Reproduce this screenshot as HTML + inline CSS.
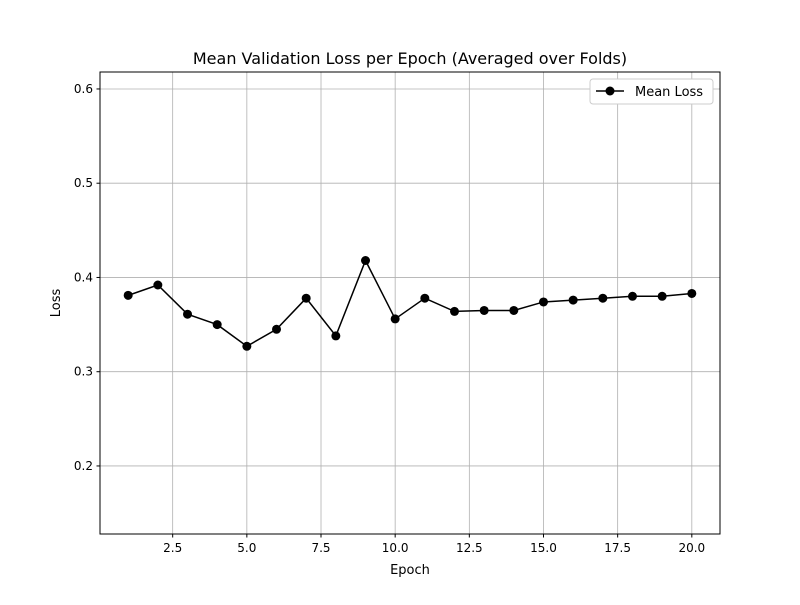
<!DOCTYPE html>
<html><head><meta charset="utf-8"><style>
body{margin:0;background:#fff;}
svg text{font-family:"DejaVu Sans","Liberation Sans",sans-serif;fill:#000;}
</style></head><body>
<svg id="chart" width="800" height="600" xmlns="http://www.w3.org/2000/svg">
<rect width="800" height="600" fill="#fff"/>
<text x="410" y="64" font-size="16" text-anchor="middle">Mean Validation Loss per Epoch (Averaged over Folds)</text>
<g id="grid"></g>
<g id="xticks"></g>
<g id="yticks"></g>
<g id="series"></g>
<rect x="100" y="72" width="620" height="462" fill="none" stroke="#000" stroke-width="1"/>
<text x="410" y="574" font-size="13" text-anchor="middle">Epoch</text>
<text x="60" y="303" font-size="13" text-anchor="middle" transform="rotate(-90 60 303)">Loss</text>
<g>
<rect x="590" y="79" width="123" height="25" rx="3" fill="#fff" stroke="#ccc"/>
<line x1="596" y1="91" x2="624" y2="91" stroke="#000" stroke-width="1.5"/>
<circle cx="610" cy="91" r="4.5" fill="#000"/>
<text x="635" y="96" font-size="13">Mean Loss</text>
</g>
</svg>
<script>
const epochs=[1,2,3,4,5,6,7,8,9,10,11,12,13,14,15,16,17,18,19,20];
const meanLoss=[0.381,0.392,0.361,0.350,0.327,0.345,0.378,0.338,0.418,0.356,0.378,0.364,0.365,0.365,0.374,0.376,0.378,0.380,0.380,0.383];
const xTicks=[2.5,5.0,7.5,10.0,12.5,15.0,17.5,20.0];
const yTicks=[0.2,0.3,0.4,0.5,0.6];
const NS="http://www.w3.org/2000/svg";
const X0=100,X1=720,Y0=534,Y1=72;
const xmin=0.05,xmax=20.95,ymin=0.1278,ymax=0.618;
function sx(v){return X0+(v-xmin)/(xmax-xmin)*(X1-X0);}
function sy(v){return Y0-(v-ymin)/(ymax-ymin)*(Y0-Y1);}
function mk(tag,attrs,parent){const e=document.createElementNS(NS,tag);for(const k in attrs)e.setAttribute(k,attrs[k]);parent.appendChild(e);return e;}
const grid=document.getElementById('grid'),xt=document.getElementById('xticks'),yt=document.getElementById('yticks'),ser=document.getElementById('series');
xTicks.forEach(t=>{const x=sx(t);
mk('line',{x1:x,x2:x,y1:Y1,y2:Y0,stroke:'#b0b0b0','stroke-width':0.8},grid);
mk('line',{x1:x,x2:x,y1:Y0,y2:Y0+3.5,stroke:'#000'},xt);
const tx=mk('text',{x:x,y:Y0+18,'font-size':12,'text-anchor':'middle'},xt);tx.textContent=t.toFixed(1);

});
yTicks.forEach(t=>{const y=sy(t);
mk('line',{x1:X0,x2:X1,y1:y,y2:y,stroke:'#b0b0b0','stroke-width':0.8},grid);
mk('line',{x1:X0-3.5,x2:X0,y1:y,y2:y,stroke:'#000'},yt);
const tx=mk('text',{x:X0-7,y:y+4,'font-size':12,'text-anchor':'end'},yt);tx.textContent=t.toFixed(1);

});
const pl=mk('polyline',{points:epochs.map((e,i)=>sx(e)+','+sy(meanLoss[i])).join(' '),fill:'none',stroke:'#000','stroke-width':1.5},ser);


epochs.forEach((e,i)=>{const c=mk('circle',{cx:sx(e),cy:sy(meanLoss[i]),r:4.5,fill:'#000'},ser);

});
</script>
</body></html>
